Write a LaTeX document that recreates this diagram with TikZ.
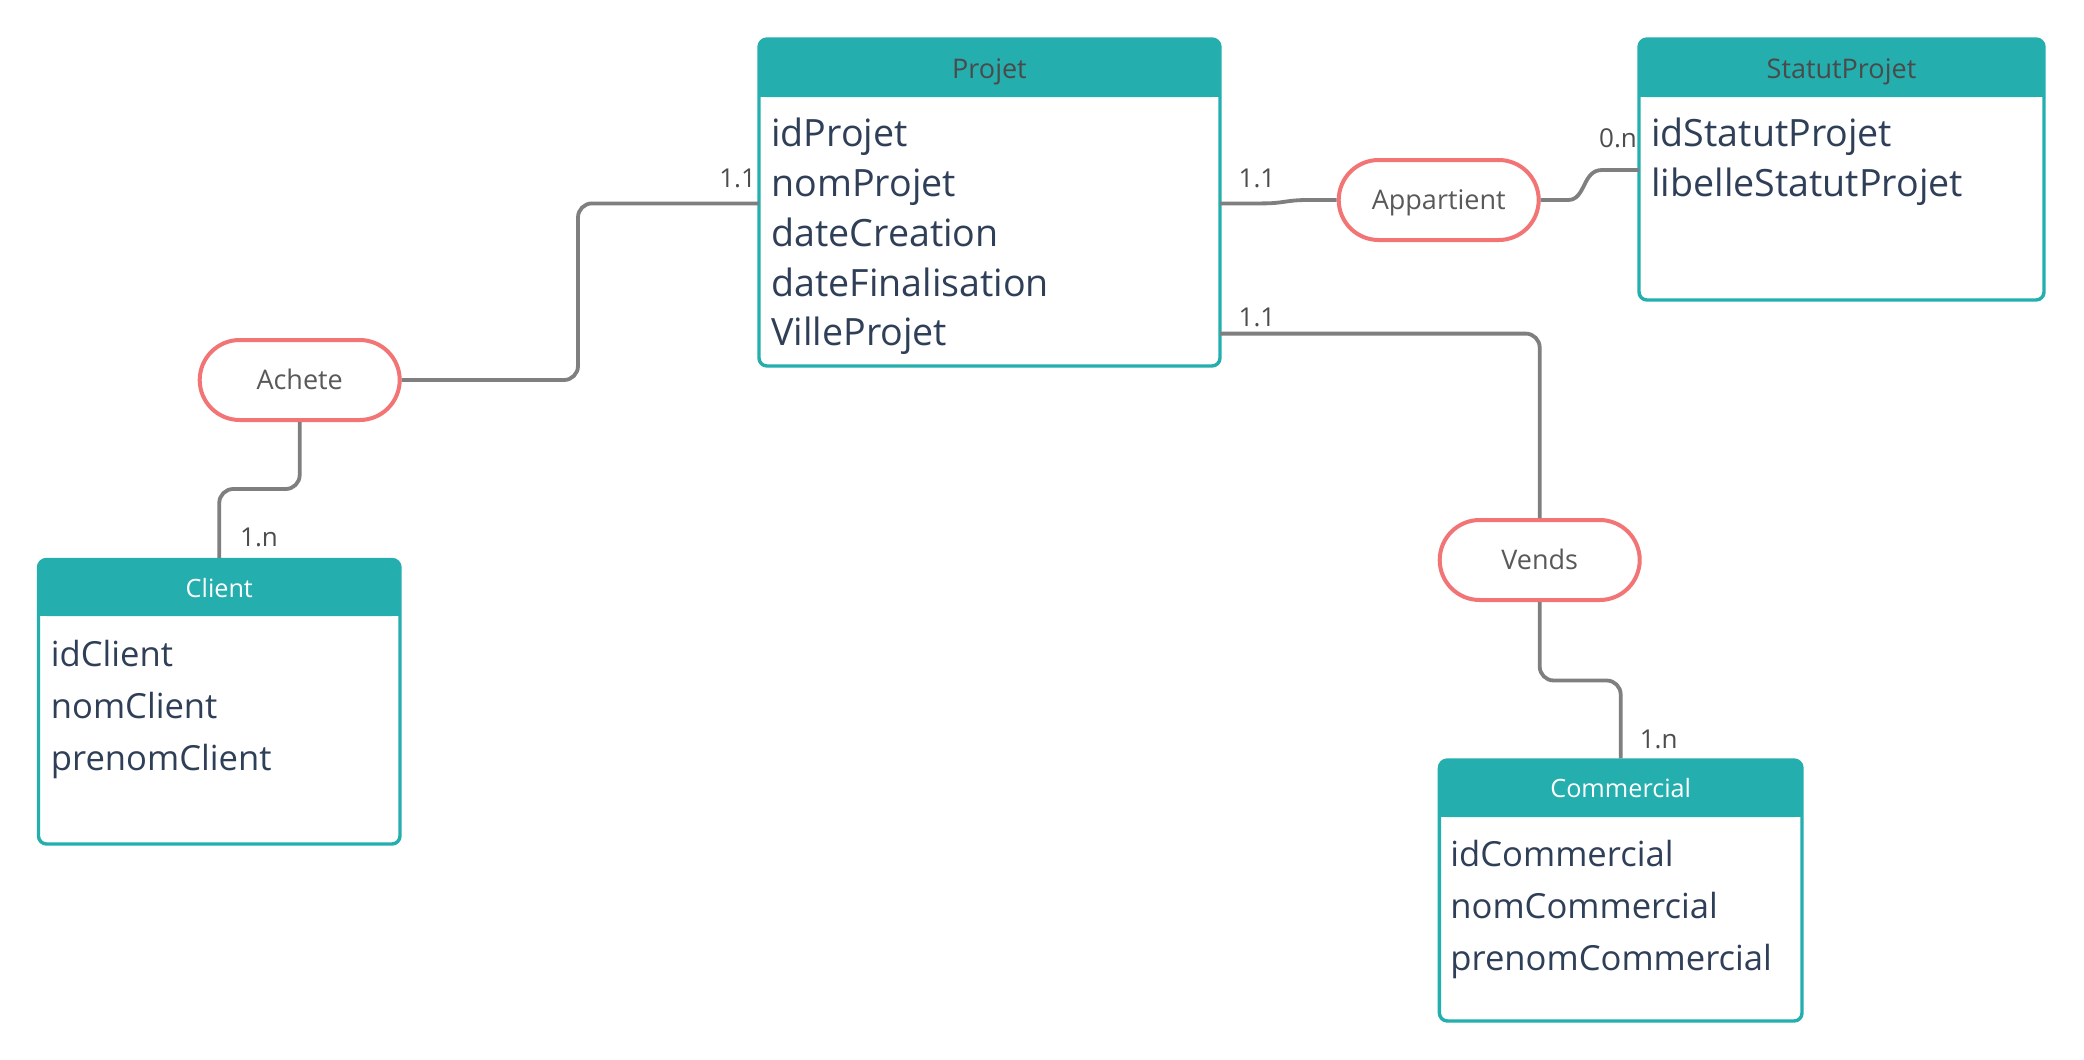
\documentclass[tikz,border=0pt]{standalone}
\usepackage{fontspec}
\setmainfont{Open Sans}
\usetikzlibrary{fit,calc}
\definecolor{erteal}{HTML}{24AFAE}
\definecolor{ersalmon}{HTML}{F27474}
\definecolor{ergray}{HTML}{7F7F7F}
\definecolor{erattr}{HTML}{2F3F58}
\definecolor{ertitle}{HTML}{4A4A4A}
\definecolor{errel}{HTML}{595959}
\definecolor{erlbl}{HTML}{4D4D4D}
\begin{document}
\begin{tikzpicture}[x=0.5pt,y=-0.5pt,
  box/.style={draw=erteal, line width=1.7pt, fill=white, rounded corners=4pt, inner sep=0pt},
  ttl/.style={font=\fontsize{13.5}{16}\selectfont, anchor=base, inner sep=0pt},
  ttlb/.style={font=\fontsize{12.6}{15}\selectfont, anchor=base, inner sep=0pt, text=white},
  attr/.style={font=\fontsize{18.8}{22}\selectfont, text=erattr, anchor=base west, inner sep=0pt},
  attrb/.style={font=\fontsize{17.3}{21}\selectfont, text=erattr, anchor=base west, inner sep=0pt},
  rel/.style={draw=ersalmon, line width=2pt, fill=white, rounded corners=20pt,
    minimum width=100pt, minimum height=40pt, font=\fontsize{13.5}{16}\selectfont,
    text=errel, text height=9.6pt, text depth=0pt, inner sep=0pt},
  conn/.style={draw=ergray, line width=1.9pt, rounded corners=7pt},
  card/.style={font=\fontsize{13}{15}\selectfont, text=erlbl, inner sep=0pt,
    text height=9.3pt, text depth=0pt}]
\useasboundingbox (0,0) rectangle (2084,1060);
\fill[white] (0,0) rectangle (2084,1060);

% ---------- Projet ----------
\node[box, fit={(759,39)(1220,366)}] (projet) {};
\fill[erteal, rounded corners=4pt] (759,39) rectangle (1220,97);
\fill[erteal] (759,70) rectangle (1220,97);
\node[ttl, text=ertitle] (projetT) at (989.5,78) {Projet};
\node[attr] (p1) at (771,146) {idProjet};
\node[attr] (p2) at (771,196) {nomProjet};
\node[attr] (p3) at (771,246) {dateCreation};
\node[attr] (p4) at (771,296) {dateFinalisation};
\node[attr] (p5) at (771,345) {VilleProjet};

% ---------- StatutProjet ----------
\node[box, fit={(1639,39)(2044,300)}] (statut) {};
\fill[erteal, rounded corners=4pt] (1639,39) rectangle (2044,97);
\fill[erteal] (1639,70) rectangle (2044,97);
\node[ttl, text=ertitle] (statutT) at (1841.5,78) {StatutProjet};
\node[attr] (s1) at (1651,146) {idStatutProjet};
\node[attr] (s2) at (1651,196) {libelleStatutProjet};

% ---------- Client ----------
\node[box, fit={(38.5,559.5)(400,844)}] (client) {};
\fill[erteal, rounded corners=4pt] (38.5,559.5) rectangle (400,616);
\fill[erteal] (38.5,590) rectangle (400,616);
\node[ttlb] (clientT) at (219.3,597) {Client};
\node[attrb] (c1) at (50.5,666) {idClient};
\node[attrb] (c2) at (50.5,718) {nomClient};
\node[attrb] (c3) at (50.5,770) {prenomClient};

% ---------- Commercial ----------
\node[box, fit={(1439.4,760)(1802,1021)}] (commercial) {};
\fill[erteal, rounded corners=4pt] (1439.4,760) rectangle (1802,817);
\fill[erteal] (1439.4,790) rectangle (1802,817);
\node[ttlb] (commercialT) at (1620.7,797) {Commercial};
\node[attrb] (m1) at (1450,866) {idCommercial};
\node[attrb] (m2) at (1450,918) {nomCommercial};
\node[attrb] (m3) at (1450,970) {prenomCommercial};

% ---------- relations ----------
\node[rel] (achete) at (299.7,380) {Achete};
\node[rel] (appartient) at (1438.7,200) {Appartient};
\node[rel] (vends) at (1539.7,560) {Vends};

% ---------- attachment points ----------
\coordinate (pA) at (759,203.4);
\coordinate (pB) at (1220,203.4);
\coordinate (pC) at (1639,170);
\coordinate (pD) at (1220,333.6);

% ---------- connectors ----------
\draw[conn] (achete.east) -| (578,203.4) -- (pA);
\draw[conn] (achete.south) -- (299.7,489) -| (client.north);
\draw[conn, rounded corners=0pt] (pB) -- (1262,203.4) .. controls (1285,203.4) and (1285,200) .. (1308,200) -- (appartient.west);
\draw[conn, rounded corners=0pt] (appartient.east) -- (1568,200) .. controls (1586,200) and (1582,170) .. (1602,170) -- (pC);
\draw[conn] (pD) -| (vends.north);
\draw[conn] (vends.south) -- (1539.7,680.5) -| (commercial.north);

% ---------- cardinalities ----------
\node[card] (k1) at (737.6,178) {1.1};
\node[card] (k2) at (259,537.5) {1.n};
\node[card] (k3) at (1257,178) {1.1};
\node[card] (k4) at (1618,138.4) {0.n};
\node[card] (k5) at (1257,317.6) {1.1};
\node[card] (k6) at (1658.7,739) {1.n};
\end{tikzpicture}
\end{document}
